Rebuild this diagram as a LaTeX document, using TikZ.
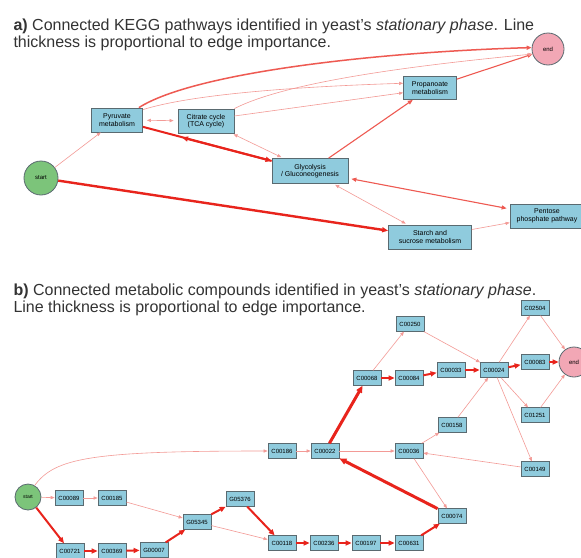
\documentclass[tikz,border=0pt]{standalone}
\usepackage{fontspec}
\setmainfont{Liberation Sans}
\usetikzlibrary{arrows.meta}
\definecolor{boxfill}{HTML}{8FCBDD}
\definecolor{boxline}{HTML}{5A6A70}
\definecolor{startfill}{HTML}{7CC47A}
\definecolor{endfill}{HTML}{F2A7B5}
\definecolor{edgehi}{HTML}{E8241C}
\definecolor{edgemd}{HTML}{EE5A52}
\definecolor{edgelo}{HTML}{F39A96}
\definecolor{titlecol}{HTML}{333333}
\begin{document}
\begin{tikzpicture}[x=1pt,y=-1pt,
  box/.style={draw=boxline, line width=0.8pt, fill=boxfill, inner sep=0pt,
    align=center, font=\fontsize{7}{7.6}\selectfont},
  pbox/.style={box, minimum width=#1, minimum height=24},
  cbox/.style={box, minimum width=28, minimum height=14.5,
    font=\fontsize{6}{6.5}\selectfont},
  term/.style={circle, draw=boxline, line width=0.8pt, inner sep=0pt,
    font=\fontsize{6}{6}\selectfont},
  title/.style={anchor=base west, text=titlecol, font=\fontsize{16}{18}\selectfont},
  elo/.style={draw=edgelo, line width=0.6pt, -{Triangle[length=4pt,width=3.2pt]}},
  elob/.style={draw=edgelo, line width=0.6pt,
    {Triangle[length=4pt,width=3.2pt]}-{Triangle[length=4pt,width=3.2pt]}},
  emid/.style={draw=edgemd, line width=1.1pt, -{Triangle[length=5pt,width=4pt]}},
  emidb/.style={draw=edgemd, line width=1.1pt,
    {Triangle[length=5pt,width=4pt]}-{Triangle[length=5pt,width=4pt]}},
  ehi/.style={draw=edgehi, line width=2pt, -{Triangle[length=6pt,width=5pt]}},
  evhi/.style={draw=edgehi, line width=3pt, -{Triangle[length=7pt,width=6pt]}},
]
\useasboundingbox[fill=white] (0,0) rectangle (581,557);

% ---------- a) KEGG pathways ----------
\node[title] (ta1) at (10,30) {\textbf{a)} Connected KEGG pathways identified in yeast's \textit{stationary phase}. Line};
\node[title] (ta2) at (10,47) {thickness is proportional to edge importance.};

\node[term, fill=startfill, minimum size=34] (startA) at (41,178) {start};
\node[term, fill=endfill, minimum size=32] (endA) at (548,49) {end};
\node[pbox=51] (pyr) at (117,120) {Pyruvate\\metabolism};
\node[pbox=56] (tca) at (206,121) {Citrate cycle\\(TCA cycle)};
\node[pbox=53, minimum height=23] (prop) at (430,88) {Propanoate\\metabolism};
\node[pbox=76, minimum height=25] (gly) at (310,171) {Glycolysis\\/ Gluconeogenesis};
\node[pbox=74] (pent) at (547,216) {Pentose\\phosphate pathway};
\node[pbox=83] (starch) at (430,237) {Starch and\\sucrose metabolism};
\coordinate (ghead) at (182,137.5);

\draw[elo] (startA) -- (pyr);
\draw[ehi, line width=2.4pt] (startA) -- (starch);
\draw[ehi] (pyr) -- (gly);
\draw[ehi] (gly) -- (ghead);
\draw[elob, shorten <=4pt, shorten >=4pt] (pyr) -- (tca);
\draw[elob, shorten <=2pt, shorten >=2pt] (tca) -- (gly);
\draw[emid] (gly) -- (prop);
\draw[emidb, shorten <=3pt, shorten >=3pt] (gly) -- (pent);
\draw[elob, shorten <=2pt, shorten >=2pt] (gly) -- (starch);
\draw[elo] (starch) -- (pent);
\draw[emid] (prop) -- (endA);
\draw[emid, line width=1.5pt] ([xshift=-4pt]pyr.north east)
  .. controls (195,72) and (380,52) .. (endA.175);
\draw[elo] (tca.north east)
  .. controls (290,80) and (430,64) .. (endA.198);
\draw[elo] ([yshift=-2pt]pyr.north east)
  .. controls (200,92) and (320,86) .. (prop.170);
\draw[elo] ([yshift=5pt]tca.east) -- (prop.190);

% ---------- b) metabolic compounds ----------
\node[title] (tb1) at (10,295) {\textbf{b)} Connected metabolic compounds identified in yeast's \textit{stationary phase}.};
\node[title] (tb2) at (10,312) {Line thickness is proportional to edge importance.};

\node[term, fill=startfill, minimum size=26, font=\fontsize{5}{5}\selectfont] (startB) at (28,497) {start};
\node[term, fill=endfill, minimum size=30] (endB) at (574,362) {end};
\node[cbox] (c02504) at (535,308) {C02504};
\node[cbox] (c00250) at (410,324) {C00250};
\node[cbox] (c00083) at (535,362) {C00083};
\node[cbox] (c00024) at (494,370) {C00024};
\node[cbox] (c00033) at (451,370) {C00033};
\node[cbox] (c00084) at (409,378) {C00084};
\node[cbox] (c00068) at (367,378) {C00068};
\node[cbox] (c01251) at (535,415) {C01251};
\node[cbox] (c00158) at (452,425) {C00158};
\node[cbox] (c00036) at (409,451) {C00036};
\node[cbox] (c00022) at (325,451) {C00022};
\node[cbox] (c00186) at (282,451) {C00186};
\node[cbox] (c00149) at (535,469) {C00149};
\node[cbox] (c00074) at (452,516) {C00074};
\node[cbox] (c00118) at (282,543) {C00118};
\node[cbox] (c00236) at (324,543) {C00236};
\node[cbox] (c00197) at (366,543) {C00197};
\node[cbox] (c00631) at (409,543) {C00631};
\node[cbox] (c00089) at (69,498) {C00089};
\node[cbox] (c00185) at (112,498) {C00185};
\node[cbox] (c00721) at (70,551) {C00721};
\node[cbox] (c00369) at (112,551) {C00369};
\node[cbox] (g00007) at (154,550) {G00007};
\node[cbox] (g05345) at (197,522) {G05345};
\node[cbox] (g05376) at (240,499) {G05376};

% thin edges
\draw[elo] (startB.60) .. controls (55,458) and (90,451) .. (c00186.west);
\draw[elo] (startB) -- (c00089);
\draw[elo] (c00089) -- (c00185);
\draw[elo] (c00185) -- (g05345);
\draw[elo] (g05345) -- (c00118);
\draw[elo] (c00186) -- (c00022);
\draw[elo] (c00022) -- (c00036);
\draw[elo] (c00036) -- (c00074);
\draw[elo] (c00036) -- (c00158);
\draw[elo] (c00158) -- (c00024);
\draw[elo] (c00149) -- (c00036);
\draw[elo] (c00068) -- (c00250);
\draw[elo] (c00250) -- (c00024);
\draw[elo] (c00024) -- (c02504);
\draw[elo] (c00024) -- (c01251);
\draw[elo] (c00024) -- (c00149);
\draw[elo] (c02504) -- (endB);
\draw[elo] (c01251) -- (endB);
% heavy edges
\draw[ehi] (startB) -- (c00721);
\draw[ehi] (c00721) -- (c00369);
\draw[ehi] (c00369) -- (g00007);
\draw[ehi] (g00007) -- (g05345);
\draw[ehi] (g05345) -- (g05376);
\draw[ehi] (g05376) -- (c00118);
\draw[ehi] (c00118) -- (c00236);
\draw[ehi] (c00236) -- (c00197);
\draw[ehi] (c00197) -- (c00631);
\draw[ehi] (c00631) -- (c00074);
\draw[evhi] (c00074) -- (c00022);
\draw[evhi] (c00022) -- (c00068);
\draw[ehi] (c00068) -- (c00084);
\draw[ehi] (c00084) -- (c00033);
\draw[ehi] (c00033) -- (c00024);
\draw[ehi] (c00024) -- (c00083);
\draw[ehi] (c00083) -- (endB);
\end{tikzpicture}
\end{document}
